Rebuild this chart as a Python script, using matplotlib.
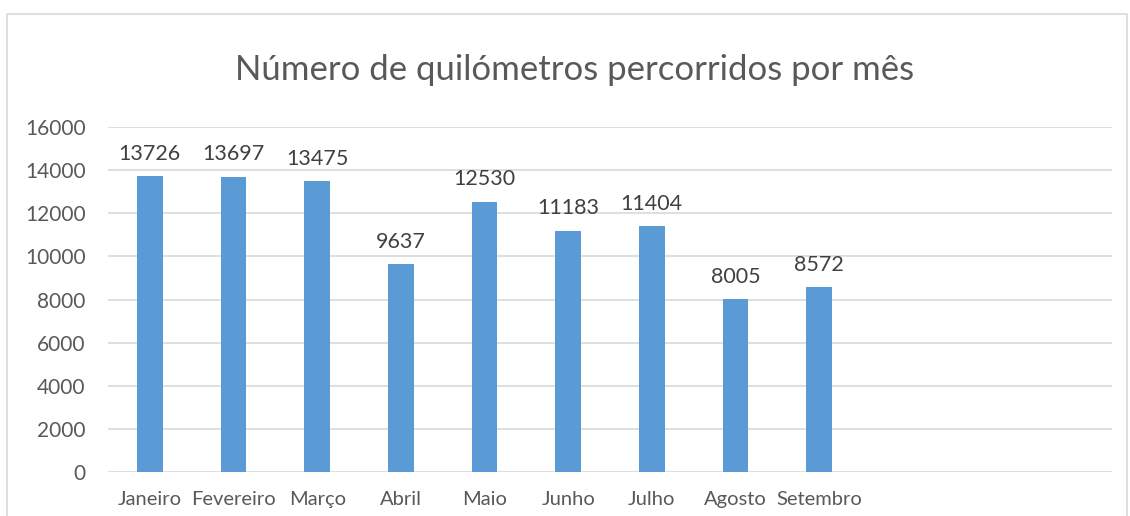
import matplotlib
matplotlib.use("Agg")
import matplotlib.pyplot as plt
from matplotlib.patches import Rectangle

categories = ["Janeiro", "Fevereiro", "Março", "Abril", "Maio", "Junho",
              "Julho", "Agosto", "Setembro", "", "", ""]
values = [13726, 13697, 13475, 9637, 12530, 11183, 11404, 8005, 8572]
yticks = [0, 2000, 4000, 6000, 8000, 10000, 12000, 14000, 16000]
title = "Número de quilómetros percorridos por mês"

plt.rcParams['font.family'] = ['Lato', 'DejaVu Sans']
txt = '#595959'
W, H = 1130, 516
fig = plt.figure(figsize=(W/100, H/100), dpi=100)
fig.patches.append(Rectangle((7/W, -0.1), (1127-7)/W, 1.1 - 14/H + 0.0,
                             transform=fig.transFigure, fill=False,
                             edgecolor='#D9D9D9', linewidth=1.2))
ax = fig.add_axes([108/W, (H-472)/H, (1112-108)/W, (472-127)/H])

x = list(range(len(categories)))
bars = ax.bar(x[:len(values)], values, width=0.31, color='#5B9BD5', zorder=3)
for xi, v in zip(x, values):
    ax.annotate(str(v), (xi, v), xytext=(0, 9), textcoords='offset points',
                ha='center', va='bottom', fontsize=15.5, color='#404040')

ax.set_xlim(-0.5, len(categories) - 0.5)
ax.set_ylim(0, 16000)
ax.set_yticks(yticks)
ax.set_yticklabels([str(t) for t in yticks], fontsize=15, color=txt)
ax.set_xticks(x)
ax.set_xticklabels(categories, fontsize=14.5, color=txt)
ax.tick_params(axis='both', length=0)
ax.tick_params(axis='y', pad=16)
ax.tick_params(axis='x', pad=14)
ax.grid(axis='y', color='#D9D9D9', linewidth=1.2, zorder=0)
for s in ax.spines.values():
    s.set_visible(False)
fig.text(575/W, 1 - 70/H, title, ha='center', va='center', fontsize=25, color=txt)
fig.savefig('out.png', dpi=100)
